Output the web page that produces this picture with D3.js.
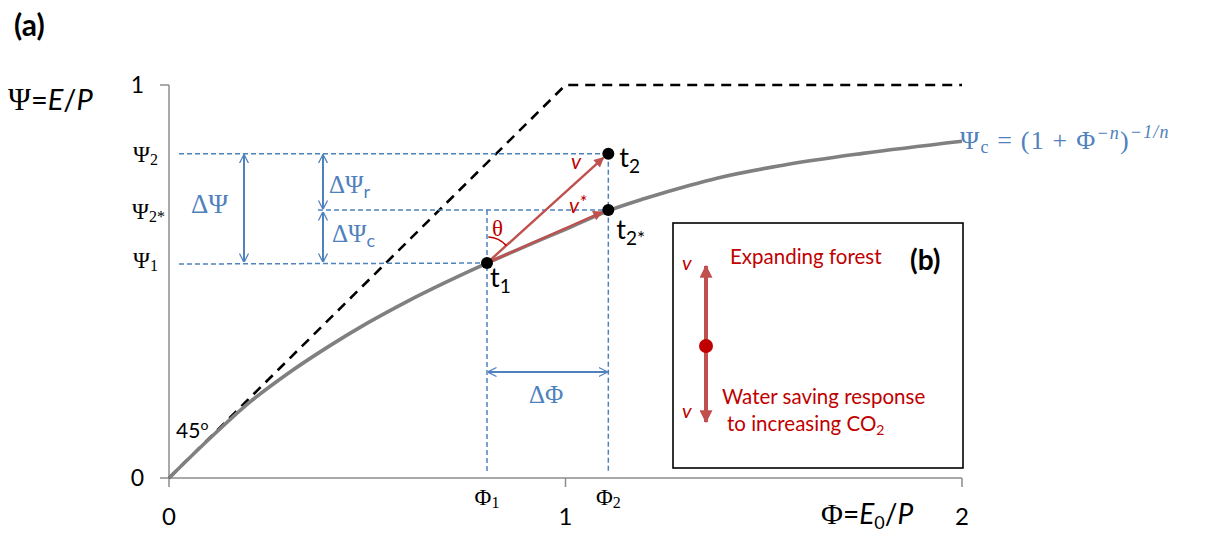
<!DOCTYPE html>
<html>
<head>
<meta charset="utf-8">
<script src="https://cdn.jsdelivr.net/npm/d3@7"></script>
<style>
  body { margin: 0; background: #fff; }
  svg { display: block; }
  .sans { font-family: Lato, "Open Sans", sans-serif; }
  .serif { font-family: "Liberation Serif", "DejaVu Serif", serif; }
</style>
</head>
<body>
<svg id="canvas" width="1220" height="533"></svg>
<script>
// Budyko curve (Phi, Psi)
const curvePhi = [0, 0.1, 0.2, 0.3, 0.4, 0.5, 0.6, 0.7, 0.802, 0.9, 1.0, 1.108, 1.2, 1.314, 1.382, 1.549, 1.75, 2.0];
const curvePsi = [0, 0.098, 0.19, 0.266, 0.333, 0.394, 0.449, 0.499, 0.547, 0.59, 0.633, 0.68, 0.711, 0.745, 0.763, 0.796, 0.826, 0.857];
// energy / water limits
const limitPhi = [0, 1, 2];
const limitPsi = [0, 1, 1];
// states t1, t2*, t2
const statePhi = [0.802, 1.108, 1.108];
const statePsi = [0.547, 0.682, 0.825];
const xTicks = [0, 1, 2];
const yTicks = [0, 1];

const BLUE = "#4F81BD";
const RED = "#C0504D";
const DARKRED = "#C00000";
const AXIS = "#8c8c8c";

var svg = d3.select("#canvas");
var x = d3.scaleLinear().domain([0, 2]).range([169, 962]);
var y = d3.scaleLinear().domain([0, 1]).range([478, 85]);

var defs = svg.append("defs");
defs.append("marker").attr("id", "chev")
    .attr("viewBox", "0 0 10 10").attr("refX", 9.5).attr("refY", 5)
    .attr("markerWidth", 9).attr("markerHeight", 14)
    .attr("markerUnits", "userSpaceOnUse").attr("orient", "auto-start-reverse")
  .append("path").attr("d", "M0,0 L10,5 L0,10")
    .attr("fill", "none").attr("stroke", BLUE).attr("stroke-width", 1.4);
defs.append("marker").attr("id", "tri")
    .attr("viewBox", "0 0 10 10").attr("refX", 9).attr("refY", 5)
    .attr("markerWidth", 15).attr("markerHeight", 10)
    .attr("markerUnits", "userSpaceOnUse").attr("orient", "auto-start-reverse")
  .append("path").attr("d", "M0,0 L10,5 L0,10 Z").attr("fill", RED);
defs.append("marker").attr("id", "triBig")
    .attr("viewBox", "0 0 10 10").attr("refX", 9).attr("refY", 5)
    .attr("markerWidth", 20).attr("markerHeight", 13)
    .attr("markerUnits", "userSpaceOnUse").attr("orient", "auto-start-reverse")
  .append("path").attr("d", "M0,0 L10,5 L0,10 Z").attr("fill", RED);

// axes
svg.append("line").attr("x1", x(0)).attr("x2", x(0)).attr("y1", y(1)).attr("y2", y(0) + 9)
    .attr("stroke", AXIS).attr("stroke-width", 1.5);
svg.append("line").attr("x1", x(0) - 9).attr("x2", x(0)).attr("y1", y(1)).attr("y2", y(1))
    .attr("stroke", AXIS).attr("stroke-width", 1.5);
svg.append("line").attr("x1", x(0) - 9).attr("x2", x(2)).attr("y1", y(0)).attr("y2", y(0))
    .attr("stroke", AXIS).attr("stroke-width", 1.5);
[1, 2].forEach(function(v){
    svg.append("line").attr("x1", x(v)).attr("x2", x(v)).attr("y1", y(0)).attr("y2", y(0) + 9)
        .attr("stroke", AXIS).attr("stroke-width", 1.5);
});

svg.selectAll(".xt").data(xTicks).enter().append("text")
    .attr("class", "sans").attr("x", d => x(d)).attr("y", 525)
    .attr("text-anchor", "middle").attr("font-size", 24).text(d => d);
svg.selectAll(".yt").data(yTicks).enter().append("text")
    .attr("class", "sans").attr("x", 144).attr("y", d => y(d) + 8)
    .attr("text-anchor", "end").attr("font-size", 23).text(d => d);

// axis titles
var yt = svg.append("text").attr("x", 8).attr("y", 110).attr("font-size", 29);
yt.append("tspan").attr("class", "serif").attr("font-size", 31).text("Ψ");
yt.append("tspan").attr("class", "sans").text("=");
yt.append("tspan").attr("class", "sans").attr("font-style", "italic").text("E");
yt.append("tspan").attr("class", "sans").text("/");
yt.append("tspan").attr("class", "sans").attr("font-style", "italic").text("P");

var xt = svg.append("text").attr("x", 821).attr("y", 524).attr("font-size", 28);
xt.append("tspan").attr("class", "serif").attr("font-size", 30).text("Φ");
xt.append("tspan").attr("class", "sans").text("=");
xt.append("tspan").attr("class", "sans").attr("font-style", "italic").text("E");
xt.append("tspan").attr("class", "sans").attr("font-size", 18).attr("dy", 5).text("0");
xt.append("tspan").attr("class", "sans").attr("dy", -5).text("/");
xt.append("tspan").attr("class", "sans").attr("font-style", "italic").text("P");

svg.append("text").attr("class", "sans").attr("x", 14).attr("y", 36)
    .attr("font-size", 30).attr("font-weight", "bold").text("(a)");

// limits (dashed black)
var line = d3.line().x(d => x(d[0])).y(d => y(d[1]));
svg.append("path").datum(d3.zip(limitPhi, limitPsi)).attr("d", line)
    .attr("fill", "none").attr("stroke", "#000").attr("stroke-width", 2.6)
    .attr("stroke-dasharray", "10,7");

// Budyko curve
svg.append("path").datum(d3.zip(curvePhi, curvePsi))
    .attr("d", d3.line().x(d => x(d[0])).y(d => y(d[1])).curve(d3.curveMonotoneX))
    .attr("fill", "none").attr("stroke", "#808080").attr("stroke-width", 3.6);

// blue dashed guide lines
var t1 = [x(statePhi[0]), y(statePsi[0])];
var t2s = [x(statePhi[1]), y(statePsi[1])];
var t2 = [x(statePhi[2]), y(statePsi[2])];
function guide(x1, y1, x2, y2){
    svg.append("line").attr("x1", x1).attr("y1", y1).attr("x2", x2).attr("y2", y2)
        .attr("stroke", BLUE).attr("stroke-width", 1.5).attr("stroke-dasharray", "5,3");
}
guide(x(0) + 10, t2[1], t2[0], t2[1]);
guide(318, t2s[1], t2s[0], t2s[1]);
guide(x(0) + 10, t1[1] + 1, t1[0], t1[1]);
guide(t1[0], t2s[1], t1[0], y(0) - 5);
guide(t2[0], t2[1], t2[0], y(0) - 5);

// blue double arrows
function dbl(x1, y1, x2, y2){
    svg.append("line").attr("x1", x1).attr("y1", y1).attr("x2", x2).attr("y2", y2)
        .attr("stroke", BLUE).attr("stroke-width", 2)
        .attr("marker-start", "url(#chev)").attr("marker-end", "url(#chev)");
}
dbl(244, t2[1] + 1, 244, t1[1] - 1);
dbl(323, t2[1] + 1, 323, t2s[1] - 1);
dbl(323, t2s[1] + 2, 323, t1[1] - 1);
dbl(t1[0] + 1, 372, t2[0] - 1, 372);

function deltaLabel(px, py, sym, sub, size){
    var t = svg.append("text").attr("class", "serif").attr("x", px).attr("y", py)
        .attr("fill", BLUE).attr("font-size", size);
    t.append("tspan").text("Δ" + sym);
    if (sub) t.append("tspan").attr("class", "sans").attr("font-size", size * 0.72).attr("dy", 5).text(sub);
}
deltaLabel(191, 213, "Ψ", null, 27);
deltaLabel(329, 193, "Ψ", "r", 25);
deltaLabel(332, 242, "Ψ", "c", 25);
deltaLabel(529, 403, "Φ", null, 25);

// y-level labels and phi labels (black serif)
function symLabel(px, py, sym, sub, anchor){
    var t = svg.append("text").attr("class", "serif").attr("x", px).attr("y", py)
        .attr("font-size", 23).attr("text-anchor", anchor || "start");
    t.append("tspan").text(sym);
    t.append("tspan").attr("font-size", 16).attr("dy", 3).text(sub);
}
symLabel(133, 162, "Ψ", "2");
symLabel(132, 219, "Ψ", "2*");
symLabel(133, 268, "Ψ", "1");
symLabel(t1[0], 505, "Φ", "1", "middle");
symLabel(t2[0], 505, "Φ", "2", "middle");

// red vectors
svg.append("line").attr("x1", t1[0]).attr("y1", t1[1]).attr("x2", t2[0] - 5).attr("y2", t2[1] + 4)
    .attr("stroke", RED).attr("stroke-width", 2.4).attr("marker-end", "url(#tri)");
svg.append("line").attr("x1", t1[0]).attr("y1", t1[1]).attr("x2", t2s[0] - 6).attr("y2", t2s[1] + 2)
    .attr("stroke", RED).attr("stroke-width", 2.4).attr("marker-end", "url(#tri)");

// theta arc
var ang = Math.atan2(t2[0] - t1[0], t1[1] - t2[1]);
svg.append("path")
    .attr("d", d3.arc().innerRadius(26).outerRadius(26).startAngle(0.05).endAngle(ang))
    .attr("transform", "translate(" + t1[0] + "," + t1[1] + ")")
    .attr("fill", "none").attr("stroke", DARKRED).attr("stroke-width", 1.6);
svg.append("text").attr("class", "serif").attr("x", 492).attr("y", 236)
    .attr("font-size", 23).attr("fill", DARKRED).text("θ");

svg.append("text").attr("class", "sans").attr("x", 571).attr("y", 169)
    .attr("font-size", 21).attr("font-style", "italic").attr("fill", DARKRED).text("v");
var vs = svg.append("text").attr("class", "sans").attr("x", 569).attr("y", 213)
    .attr("font-size", 21).attr("font-style", "italic").attr("fill", DARKRED);
vs.append("tspan").text("v");
vs.append("tspan").attr("font-size", 20).attr("dy", -4).text("*");

// state points
svg.selectAll(".pt").data(d3.range(statePhi.length)).enter().append("circle")
    .attr("cx", i => x(statePhi[i])).attr("cy", i => y(statePsi[i])).attr("r", 6).attr("fill", "#000");

function tLabel(px, py, sub){
    var t = svg.append("text").attr("class", "sans").attr("x", px).attr("y", py).attr("font-size", 27);
    t.append("tspan").text("t");
    t.append("tspan").attr("font-size", 19).attr("dy", 6).text(sub);
}
tLabel(t1[0] + 3, t1[1] + 24, "1");
tLabel(t2[0] + 11, t2[1] + 13, "2");
tLabel(t2s[0] + 8, t2s[1] + 29, "2*");

// 45 degree label
var d45 = svg.append("text").attr("class", "sans").attr("x", 176).attr("y", 438).attr("font-size", 21);
d45.append("tspan").text("45");
d45.append("tspan").attr("font-size", 14).attr("dy", -8).text("o");

// curve formula
var f = svg.append("text").attr("class", "serif").attr("x", 960).attr("y", 149)
    .attr("font-size", 26).attr("fill", BLUE).attr("letter-spacing", 1.2);
f.append("tspan").text("Ψ");
f.append("tspan").attr("font-size", 18).attr("dy", 4).text("c");
f.append("tspan").attr("dy", -4).text(" = (1 + Φ");
f.append("tspan").attr("font-size", 18).attr("dy", -10).attr("font-style", "italic").text("−n");
f.append("tspan").attr("dy", 10).text(")");
f.append("tspan").attr("font-size", 18).attr("dy", -11).attr("font-style", "italic").text("−1/n");

// panel (b)
svg.append("rect").attr("x", 673).attr("y", 223).attr("width", 290).attr("height", 245)
    .attr("fill", "#fff").attr("stroke", "#000").attr("stroke-width", 1.6);
svg.append("text").attr("class", "sans").attr("x", 910).attr("y", 270)
    .attr("font-size", 28).attr("font-weight", "bold").text("(b)");
svg.append("line").attr("x1", 706).attr("y1", 346).attr("x2", 706).attr("y2", 266)
    .attr("stroke", RED).attr("stroke-width", 4).attr("marker-end", "url(#triBig)");
svg.append("line").attr("x1", 706).attr("y1", 346).attr("x2", 706).attr("y2", 422)
    .attr("stroke", RED).attr("stroke-width", 4).attr("marker-end", "url(#triBig)");
svg.append("circle").attr("cx", 706).attr("cy", 346).attr("r", 7).attr("fill", DARKRED);
svg.append("text").attr("class", "sans").attr("x", 682).attr("y", 270)
    .attr("font-size", 20).attr("font-style", "italic").attr("fill", DARKRED).text("v");
svg.append("text").attr("class", "sans").attr("x", 682).attr("y", 418)
    .attr("font-size", 20).attr("font-style", "italic").attr("fill", DARKRED).text("v");
svg.append("text").attr("class", "sans").attr("x", 730).attr("y", 264)
    .attr("font-size", 20.5).attr("fill", DARKRED).text("Expanding forest");
svg.append("text").attr("class", "sans").attr("x", 722).attr("y", 404)
    .attr("font-size", 20.5).attr("fill", DARKRED).text("Water saving response");
var co = svg.append("text").attr("class", "sans").attr("x", 727).attr("y", 431)
    .attr("font-size", 20.5).attr("fill", DARKRED);
co.append("tspan").text("to increasing CO");
co.append("tspan").attr("font-size", 14).attr("dy", 4).text("2");
</script>
</body>
</html>
